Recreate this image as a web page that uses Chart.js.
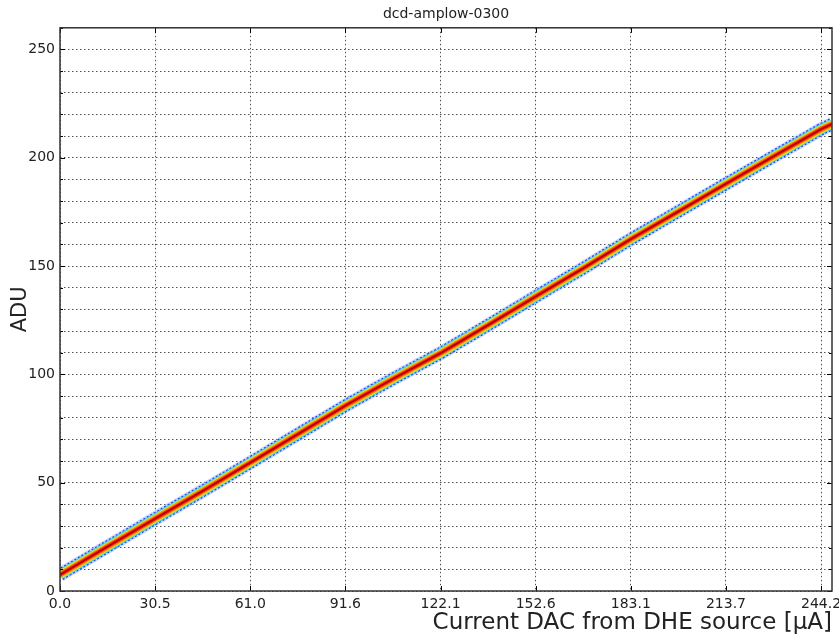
<!DOCTYPE html>
<html>
<head>
<meta charset="utf-8">
<script src="https://cdn.jsdelivr.net/npm/chart.js@4"></script>
<style>
  html, body { margin: 0; padding: 0; background: #fff; }
  #wrap { width: 839px; height: 637px; }
</style>
</head>
<body>
<div id="wrap"><canvas id="c" width="839" height="637"></canvas></div>
<script>
// values
const dacUA = [0, 15.25, 30.5, 45.8, 61.0, 76.3, 91.6, 106.8, 122.1, 137.4, 152.6, 167.9, 183.1, 198.4, 213.7, 228.9, 244.2, 247.7];
const adu   = [7.5, 20.5, 33.4, 46.2, 59.2, 72.4, 85.6, 97.9, 109.8, 122.8, 135.9, 149.0, 162.4, 175.2, 188.0, 200.6, 213.2, 215.6];
const xTicks = [0, 30.525, 61.05, 91.575, 122.1, 152.625, 183.15, 213.675, 244.2];
const xTickLabels = ['0.0', '30.5', '61.0', '91.6', '122.1', '152.6', '183.1', '213.7', '244.2'];
const yMajor = [0, 50, 100, 150, 200, 250];

// jet-like band layers, top (core) first
const layers = [
  { c: '#b00000', w: 1.5 },
  { c: '#f01c10', w: 3.5 },
  { c: '#ff8c00', w: 6 },
  { c: '#e6e42a', w: 8 },
  { c: '#3ccfe6', w: 10 },
  { c: '#1a3cf0', w: 12, dash: [2, 2] },
  { c: 'rgba(130,160,255,0.45)', w: 14 }
];

const ink = '#222';
const frame = {
  id: 'frame',
  afterDraw(ch) {
    const { ctx, chartArea: a, scales: { x, y } } = ch;
    ctx.save();
    ctx.strokeStyle = '#000'; ctx.lineWidth = 1;
    // inward ticks
    xTicks.forEach(v => {
      const px = Math.round(x.getPixelForValue(v)) + 0.5;
      ctx.beginPath(); ctx.moveTo(px, a.bottom); ctx.lineTo(px, a.bottom - 5);
      ctx.moveTo(px, a.top); ctx.lineTo(px, a.top + 5); ctx.stroke();
    });
    y.ticks.forEach(t => {
      const py = Math.round(y.getPixelForValue(t.value)) + 0.5;
      const len = yMajor.includes(t.value) ? 5 : 3;
      ctx.beginPath(); ctx.moveTo(a.left, py); ctx.lineTo(a.left + len, py);
      ctx.moveTo(a.right, py); ctx.lineTo(a.right - len, py); ctx.stroke();
    });
    ctx.strokeStyle = '#333'; ctx.lineWidth = 1.5;
    ctx.strokeRect(a.left, a.top, a.right - a.left, a.bottom - a.top);
    ctx.restore();
  }
};

new Chart(document.getElementById('c'), {
  type: 'line',
  data: {
    datasets: layers.map(l => ({
      data: dacUA.map((v, i) => ({ x: v, y: adu[i] })),
      borderColor: l.c, borderWidth: l.w, borderDash: l.dash || [],
      pointRadius: 0, tension: 0, fill: false, borderCapStyle: 'butt'
    }))
  },
  options: {
    responsive: false, animation: false,
    layout: { padding: 0 },
    plugins: {
      legend: { display: false }, tooltip: { enabled: false },
      title: { display: true, fullSize: false, text: 'dcd-amplow-0300', color: ink,
        font: { family: 'DejaVu Sans', size: 14, weight: 'normal' }, padding: { top: 6, bottom: 5 } }
    },
    scales: {
      x: {
        type: 'linear', min: 0, max: 247.7,
        afterBuildTicks: s => { s.ticks = xTicks.map(v => ({ value: v })); },
        afterFit: s => { s.height = 46; s.paddingRight = 7; s.paddingLeft = 0; },
        ticks: { autoSkip: false, maxRotation: 0, padding: 5, color: ink,
          font: { family: 'DejaVu Sans', size: 14 },
          callback: (v, i) => xTickLabels[i] },
        grid: { color: '#555', lineWidth: 1, drawTicks: false },
        border: { display: false, dash: [1.5, 2.5] },
        title: { display: true, text: 'Current DAC from DHE source [\u03bcA]', align: 'end', color: ink,
          font: { family: 'DejaVu Sans', size: 23 }, padding: { top: 0, bottom: 0 } }
      },
      y: {
        min: 0, max: 260,
        ticks: { stepSize: 10, autoSkip: false, padding: 5, color: ink,
          font: { family: 'DejaVu Sans', size: 14 },
          callback: v => (yMajor.includes(v) ? String(v) : '') },
        afterFit: s => { s.width = 60; },
        grid: { color: '#555', lineWidth: 1, drawTicks: false },
        border: { display: false, dash: [1.5, 2.5] },
        title: { display: true, text: 'ADU', color: ink,
          font: { family: 'DejaVu Sans', size: 21 }, padding: { top: 8, bottom: 0 } }
      }
    }
  },
  plugins: [frame]
});
</script>
</body>
</html>
